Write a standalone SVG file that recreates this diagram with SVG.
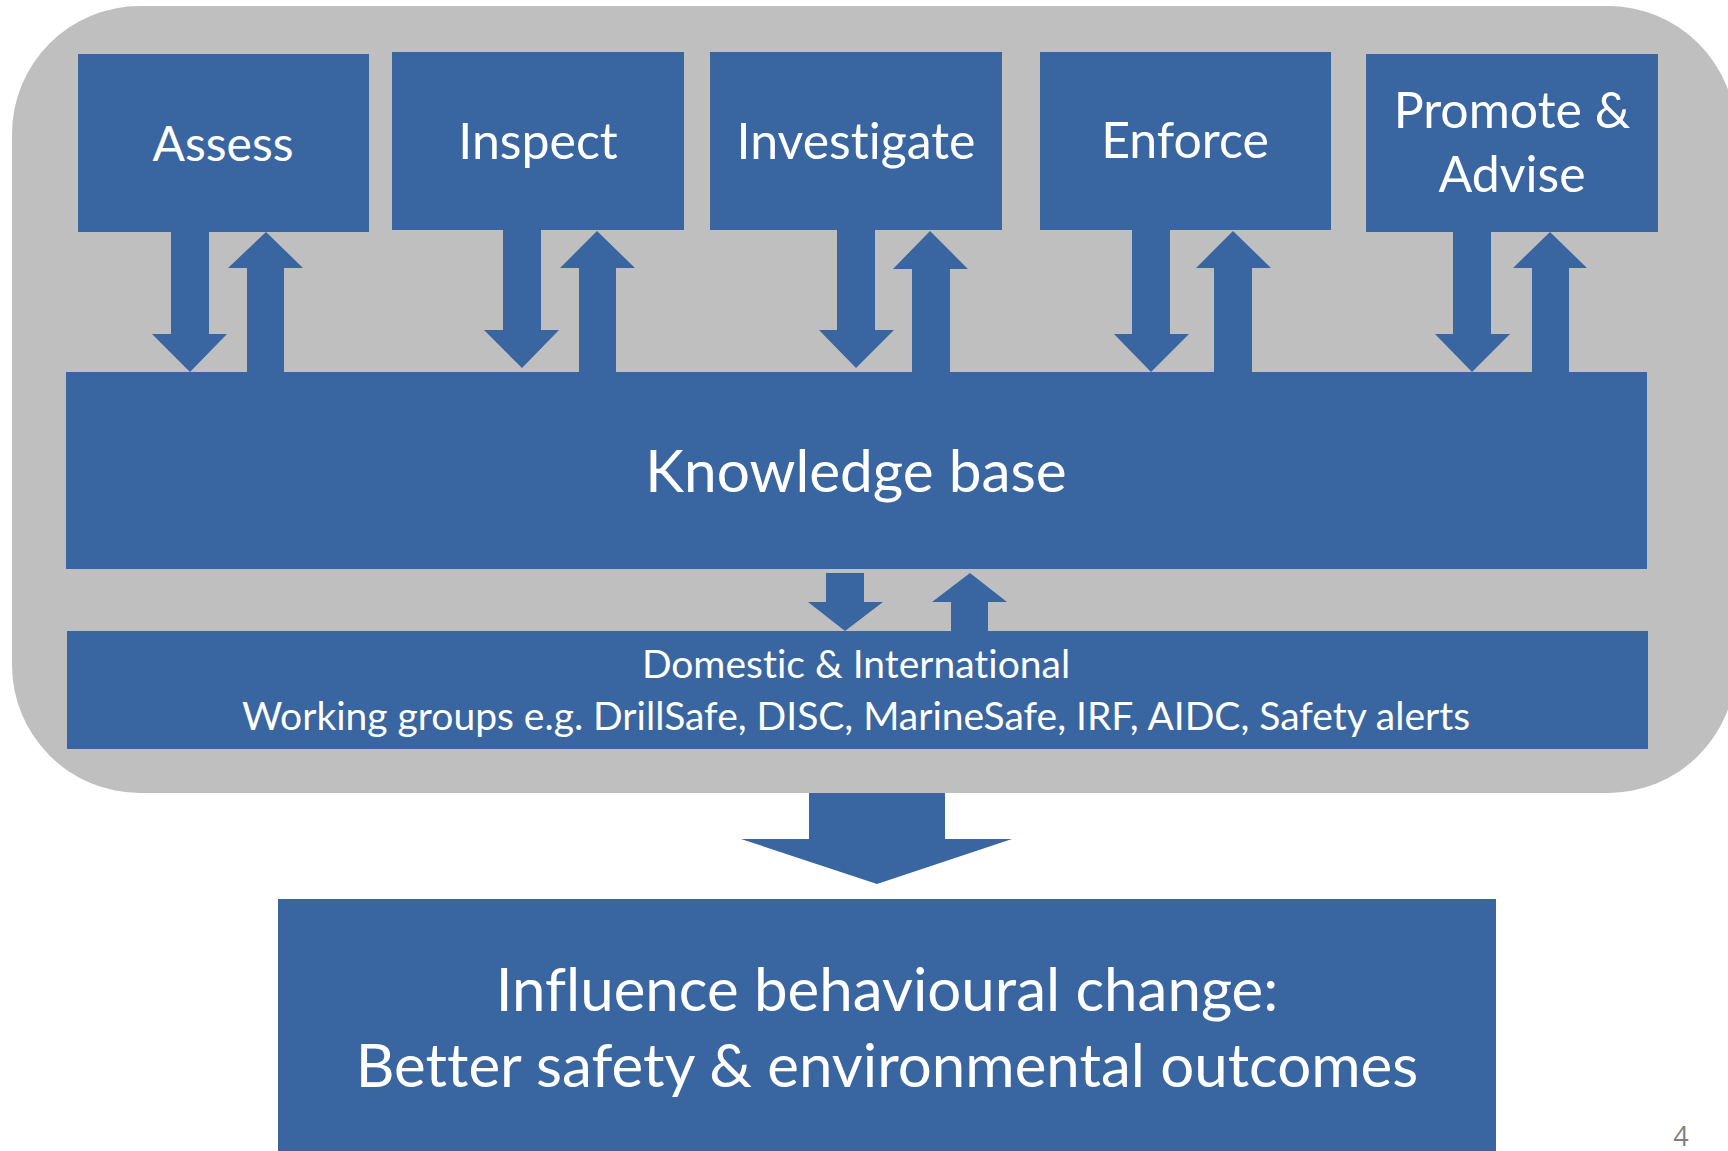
<svg xmlns="http://www.w3.org/2000/svg" width="1728" height="1151" viewBox="0 0 1728 1151">
<style>
.bg{fill:#BFBFBF}
.box{fill:#3966A0}
.arr{fill:#3966A0}
.lbl{font-family:Lato,"Open Sans",sans-serif;fill:#FFFFFF;text-anchor:middle;font-variant-ligatures:none;font-feature-settings:"liga" 0}
.l1{font-size:50px}
.pg{font-family:"Open Sans",sans-serif;font-size:27px;fill:#7F7F7F;text-anchor:middle}
</style>
<rect width="1728" height="1151" fill="#FFFFFF"/>
<rect id="container" class="bg" x="12" y="6" width="1724" height="787" rx="128" ry="128"/>
<g id="connectors">
<polygon class="arr" points="171,232 209,232 209,334 227,334 190,372 152,334 171,334"/>
<polygon class="arr" points="266,232 303,268 284,268 284,372 247,372 247,268 228,268"/>
<polygon class="arr" points="503,230 541,230 541,330 559,330 522,368 484,330 503,330"/>
<polygon class="arr" points="597,231 635,268 616,268 616,372 579,372 579,268 560,268"/>
<polygon class="arr" points="837,230 875,230 875,330 894,330 856,368 819,330 837,330"/>
<polygon class="arr" points="930,231 968,269 950,269 950,372 912,372 912,269 893,269"/>
<polygon class="arr" points="1132,230 1170,230 1170,334 1189,334 1151,372 1114,334 1132,334"/>
<polygon class="arr" points="1233,231 1271,268 1252,268 1252,372 1214,372 1214,268 1196,268"/>
<polygon class="arr" points="1453,232 1491,232 1491,334 1510,334 1472,372 1435,334 1453,334"/>
<polygon class="arr" points="1550,232 1587,268 1569,268 1569,372 1532,372 1532,268 1513,268"/>
<polygon class="arr" points="826,573 864,573 864,602 883,602 845,631 808,602 826,602"/>
<polygon class="arr" points="970,573 1007,602 988,602 988,631 951,631 951,602 932,602"/>
<polygon class="arr" points="809,793 945,793 945,839 1012,839 877,884 741,839 809,839"/>
</g>
<g id="assess">
<rect class="box" x="78" y="54" width="291" height="178"/>
<text class="lbl" x="223" y="161" font-size="48">Assess</text>
</g>
<g id="inspect">
<rect class="box" x="392" y="52" width="292" height="178"/>
<text class="lbl l1" x="538" y="159">Inspect</text>
</g>
<g id="investigate">
<rect class="box" x="710" y="52" width="292" height="178"/>
<text class="lbl l1" x="856" y="159">Investigate</text>
</g>
<g id="enforce">
<rect class="box" x="1040" y="52" width="291" height="178"/>
<text class="lbl l1" x="1185" y="158">Enforce</text>
</g>
<g id="promote">
<rect class="box" x="1366" y="54" width="292" height="178"/>
<text class="lbl l1" x="1512" y="128">Promote &amp;</text>
<text class="lbl l1" x="1512" y="192">Advise</text>
</g>
<g id="knowledge">
<rect class="box" x="66" y="372" width="1581" height="197"/>
<text class="lbl" x="856" y="492" font-size="58.5">Knowledge base</text>
</g>
<g id="domestic">
<rect class="box" x="67" y="631" width="1581" height="118"/>
<text class="lbl" x="856" y="678" font-size="39">Domestic &amp; International</text>
<text class="lbl" x="856" y="730" font-size="39">Working groups e.g. DrillSafe, DISC, MarineSafe, IRF, AIDC, Safety alerts</text>
</g>
<g id="outcome">
<rect class="box" x="278" y="899" width="1218" height="252"/>
<text class="lbl" x="887" y="1011" font-size="60">Influence behavioural change:</text>
<text class="lbl" x="887" y="1087" font-size="60">Better safety &amp; environmental outcomes</text>
</g>
<text class="pg" x="1681" y="1146">4</text>
</svg>
